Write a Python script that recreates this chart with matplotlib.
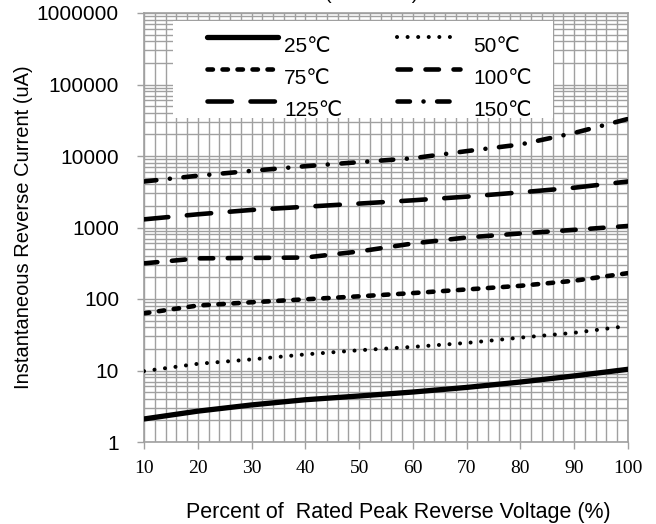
import numpy as np
import matplotlib
matplotlib.use("Agg")
import matplotlib.pyplot as plt
from matplotlib.lines import Line2D
from matplotlib.patches import Rectangle
from matplotlib.ticker import FixedLocator, LogLocator, NullFormatter, FixedFormatter

# percent of rated peak reverse voltage
pct = [10, 20, 30, 40, 50, 60, 70, 80, 90, 100]

# instantaneous reverse current (uA) per junction temperature
i_25 = [2.1, 2.7, 3.3, 3.9, 4.4, 5.0, 5.8, 6.9, 8.4, 10.4]
i_50 = [9.8, 12.4, 14.3, 16.8, 19.2, 21.4, 24.3, 28.8, 33.7, 42]
i_75 = [63, 81, 90, 99, 109, 121, 136, 153, 180, 230]
i_100 = [315, 370, 375, 380, 462, 598, 725, 825, 927, 1050]
i_125 = [1300, 1530, 1760, 1950, 2160, 2400, 2700, 3100, 3600, 4400]
i_150 = [4400, 5300, 6200, 7200, 8200, 9300, 11700, 14500, 21000, 33000]

labels = ["25\u2103", "50\u2103", "75\u2103", "100\u2103", "125\u2103", "150\u2103"]
y_ticks = [1, 10, 100, 1000, 10000, 100000, 1000000]

GRID = "#a0a0a0"
DPI = 100
SANS = ["Liberation Sans", "DejaVu Sans"]


def dashes(pattern_px, lw_pt):
    # pattern in pixels, compensated for round caps, returned in linewidth units
    lw_px = lw_pt / 72 * DPI
    out = []
    for k, v in enumerate(pattern_px):
        if k % 2 == 0:
            out.append(max(v - lw_px, 0.05) / lw_px)
        else:
            out.append((v + lw_px) / lw_px)
    return (0, tuple(out))


styles = [
    dict(lw=3.8, ls="-"),
    dict(lw=2.9, ls=dashes((1, 6.5), 2.9)),
    dict(lw=3.3, ls=dashes((10, 5), 3.3)),
    dict(lw=3.3, ls=dashes((18, 10), 3.3)),
    dict(lw=3.3, ls=dashes((29, 14), 3.3)),
    dict(lw=3.3, ls=dashes((17, 9, 1, 9), 3.3)),
]
series = [i_25, i_50, i_75, i_100, i_125, i_150]

fig = plt.figure(figsize=(6.56, 5.24), dpi=DPI)
W, H = 656, 524
x0, x1, y0, y1 = 144, 628, 13, 442
ax = fig.add_axes([x0 / W, 1 - y1 / H, (x1 - x0) / W, (y1 - y0) / H])

for vals, st in zip(series, styles):
    ax.plot(pct, vals, color="black", linewidth=st["lw"], linestyle=st["ls"],
            solid_capstyle="round", dash_capstyle="round", zorder=5)

ax.set_yscale("log")
ax.set_xlim(10, 100)
ax.set_ylim(1, 1000000)

ax.xaxis.set_major_locator(FixedLocator(pct))
ax.xaxis.set_minor_locator(FixedLocator(np.arange(10, 101, 2)))
ax.yaxis.set_major_locator(FixedLocator(y_ticks))
ax.yaxis.set_major_formatter(FixedFormatter([str(v) for v in y_ticks]))
ax.yaxis.set_minor_locator(LogLocator(base=10, subs=np.arange(2, 10)))
ax.yaxis.set_minor_formatter(NullFormatter())

ax.grid(which="both", color=GRID, linewidth=1.0, zorder=0)
ax.set_axisbelow(True)
for sp in ax.spines.values():
    sp.set_color(GRID)
    sp.set_linewidth(1.2)

ax.tick_params(which="major", direction="out", length=5, width=1.0, color=GRID)
ax.tick_params(which="minor", length=0)
ax.tick_params(axis="y", labelsize=15, pad=13)
ax.tick_params(axis="x", labelsize=14, pad=8)
for t in ax.get_yticklabels():
    t.set_family(SANS)
for t in ax.get_xticklabels():
    t.set_family(["Liberation Serif", "DejaVu Serif"])

ax.set_xlabel("Percent of  Rated Peak Reverse Voltage (%)", fontsize=15.5,
              family=SANS, labelpad=18, x=0.525)
ax.set_ylabel("Instantaneous Reverse Current (uA)", fontsize=14.5,
              family=SANS, labelpad=3)

# title line, mostly above the top edge of the figure
fig.text(372 / W, 1.002, "(TYPICAL)", ha="center", va="baseline", fontsize=14,
         family=SANS)


def axf(px, py):
    return (px - x0) / (x1 - x0), (y1 - py) / (y1 - y0)


# legend drawn as a white panel over the grid
lx, ly = axf(173, 118)
rx, ry = axf(553, 21)
ax.add_patch(Rectangle((lx, ly), rx - lx, ry - ly, transform=ax.transAxes,
                       facecolor="white", edgecolor="none", zorder=3))

col_px = [(207, 278, 284), (397, 460, 473)]
row_px = [37, 69, 101]
legend_font = ["Liberation Sans Narrow", "Liberation Sans", "DejaVu Sans"]
for k, (lab, st) in enumerate(zip(labels, styles)):
    c, r = k % 2, k // 2
    ha, hb, tx = col_px[c]
    ya = axf(0, row_px[r])[1]
    xa, xb = axf(ha, 0)[0], axf(hb, 0)[0]
    ax.add_line(Line2D([xa, xb], [ya, ya], transform=ax.transAxes, color="black",
                       linewidth=st["lw"], linestyle=st["ls"],
                       solid_capstyle="round", dash_capstyle="round", zorder=6))
    ax.text(axf(tx, 0)[0], axf(0, row_px[r] + 9)[1], lab, transform=ax.transAxes,
            ha="left", va="center", fontsize=15, family=legend_font, zorder=6)

fig.savefig("out.png", dpi=DPI)
